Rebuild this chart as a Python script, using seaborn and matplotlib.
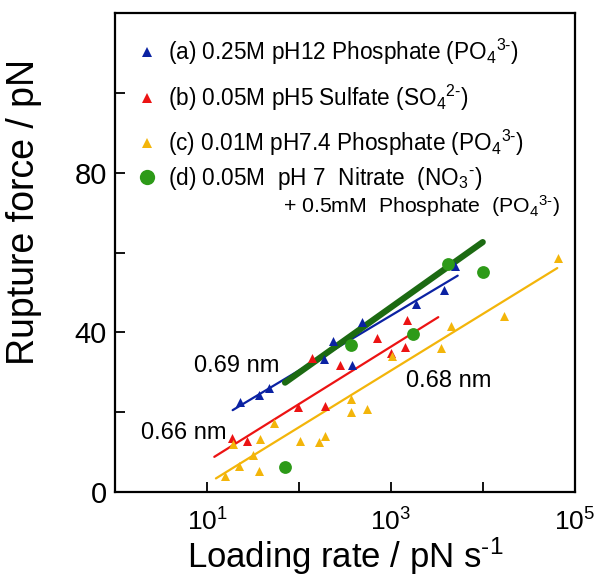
import numpy as np
import pandas as pd
import seaborn as sns
import matplotlib.pyplot as plt
from matplotlib.lines import Line2D

# (a) 0.25M pH12 phosphate
rate_a = [22.8, 37.2, 47.2, 188, 236, 374, 478, 1870, 3750, 4960]
force_a = [22.6, 24.2, 26.1, 33.3, 37.9, 31.9, 42.7, 47.2, 50.7, 56.5]
# (b) 0.05M pH5 sulfate
rate_b = [18.6, 27.2, 97.5, 137, 190, 281, 713, 993, 1427, 1489]
force_b = [13.6, 12.7, 21.2, 33.6, 21.6, 31.8, 38.6, 34.8, 36.2, 43.2]
# (c) 0.01M pH7.4 phosphate
rate_c = [15.7, 19.0, 22.4, 31.9, 36.6, 37.7, 53, 102.6, 166, 190, 367, 367,
          553, 1018, 3470, 4456, 16800, 65000]
force_c = [4.0, 11.9, 6.4, 9.3, 5.2, 13.2, 17.3, 12.7, 12.4, 13.9, 20.1, 23.3,
           20.7, 34.1, 36.0, 41.5, 44.2, 58.7]
# (d) 0.05M pH7 nitrate + 0.5mM phosphate
rate_d = [70.5, 365, 1747, 4198, 9880]
force_d = [6.3, 36.9, 39.6, 57.0, 55.2]

# fitted lines (end points)
fit_a = ([19.0, 5310], [20.5, 54.2])
fit_b = ([12.0, 3266], [8.8, 43.8])
fit_c = ([12.5, 64200], [3.4, 56.1])
fit_d = ([70.5, 9930], [27.4, 62.6])

labels = [
    '(a) 0.25M pH12 Phosphate (PO$_4$$^{3\u2010}$)',
    '(b) 0.05M pH5 Sulfate (SO$_4$$^{2\u2010}$)',
    '(c) 0.01M pH7.4 Phosphate (PO$_4$$^{3\u2010}$)',
]
label_d = '(d) 0.05M  pH 7  Nitrate  (NO$_3$$^{\u2010}$)'
label_d2 = '+ 0.5mM  Phosphate  (PO$_4$$^{3\u2010}$)'

blue = '#0b22a3'
red = '#ec1313'
yellow = '#f3b50a'
green = '#2d9a18'
dgreen = '#1c6a12'

sns.set_style('ticks')
plt.rcParams['font.family'] = ['Liberation Sans', 'DejaVu Sans']
plt.rcParams['mathtext.default'] = 'regular'
for key in ['text.color', 'axes.labelcolor', 'xtick.color', 'ytick.color']:
    plt.rcParams[key] = 'black'

fig = plt.figure(figsize=(6, 5.79), dpi=100)
ax = fig.add_axes([0.1917, 0.1503, 0.7666, 0.8272])

sns.lineplot(x=fit_a[0], y=fit_a[1], color=blue, lw=1.6, ax=ax, zorder=2)
sns.lineplot(x=fit_b[0], y=fit_b[1], color=red, lw=1.6, ax=ax, zorder=2)
sns.lineplot(x=fit_c[0], y=fit_c[1], color=yellow, lw=1.6, ax=ax, zorder=2)
sns.lineplot(x=fit_d[0], y=fit_d[1], color=dgreen, lw=4.5, ax=ax, zorder=3)

sns.scatterplot(x=rate_a, y=force_a, marker='^', color=blue, s=42, linewidth=0, ax=ax, zorder=4)
sns.scatterplot(x=rate_b, y=force_b, marker='^', color=red, s=42, linewidth=0, ax=ax, zorder=4)
sns.scatterplot(x=rate_c, y=force_c, marker='^', color=yellow, s=42, linewidth=0, ax=ax, zorder=4)
sns.scatterplot(x=rate_d, y=force_d, marker='o', color=green, s=85, linewidth=0, ax=ax, zorder=5)

ax.set_xscale('log')
ax.set_xlim(1, 1e5)
ax.set_ylim(0, 120)
ax.set_xticks([10, 100, 1e3, 1e4, 1e5])
ax.set_xticklabels(['$10^{1}$', '', '$10^{3}$', '', '$10^{5}$'])
ax.xaxis.set_minor_locator(plt.NullLocator())
ax.set_yticks(range(0, 121, 20))
ax.set_yticklabels(['0', '', '40', '', '80', '', ''])
ax.tick_params(axis='x', direction='in', length=7, width=1.3, labelsize=19, pad=12)
ax.tick_params(axis='y', direction='in', length=7, width=1.3, labelsize=21, pad=6)
for sp in ax.spines.values():
    sp.set_linewidth(1.6)
    sp.set_color('black')

ax.set_xlabel('Loading rate / pN s$^{\u20101}$', fontsize=25)
ax.set_ylabel('Rupture force / pN', fontsize=27)
ax.xaxis.set_label_coords(0.5, -0.09)
ax.yaxis.set_label_coords(-0.159, 0.585)

ax.text(20.9, 31.5, '0.69 nm', fontsize=17, ha='center', va='center')
ax.text(5.53, 14.8, '0.66 nm', fontsize=17, ha='center', va='center')
ax.text(4217, 27.8, '0.68 nm', fontsize=17, ha='center', va='center')

handles = [
    Line2D([], [], marker='^', color=blue, ls='none', markersize=7, markeredgewidth=0),
    Line2D([], [], marker='^', color=red, ls='none', markersize=7, markeredgewidth=0),
    Line2D([], [], marker='^', color=yellow, ls='none', markersize=7, markeredgewidth=0),
]
leg_opts = dict(loc='upper left', frameon=False, fontsize=16.3, handlelength=0.95,
                handletextpad=0.45, borderpad=0, borderaxespad=0, labelspacing=0.68)
leg1 = ax.legend(handles, labels, bbox_to_anchor=(0.047, 0.95), **leg_opts)
ax.add_artist(leg1)
h_d = Line2D([], [], marker='o', color=green, ls='none', markersize=11, markeredgewidth=0)
ax.legend([h_d], [label_d], bbox_to_anchor=(0.047, 0.682), **leg_opts)
ax.text(0.3646, 0.597, label_d2, transform=ax.transAxes, fontsize=15.3,
        ha='left', va='center')

plt.savefig('out.png', dpi=100)
